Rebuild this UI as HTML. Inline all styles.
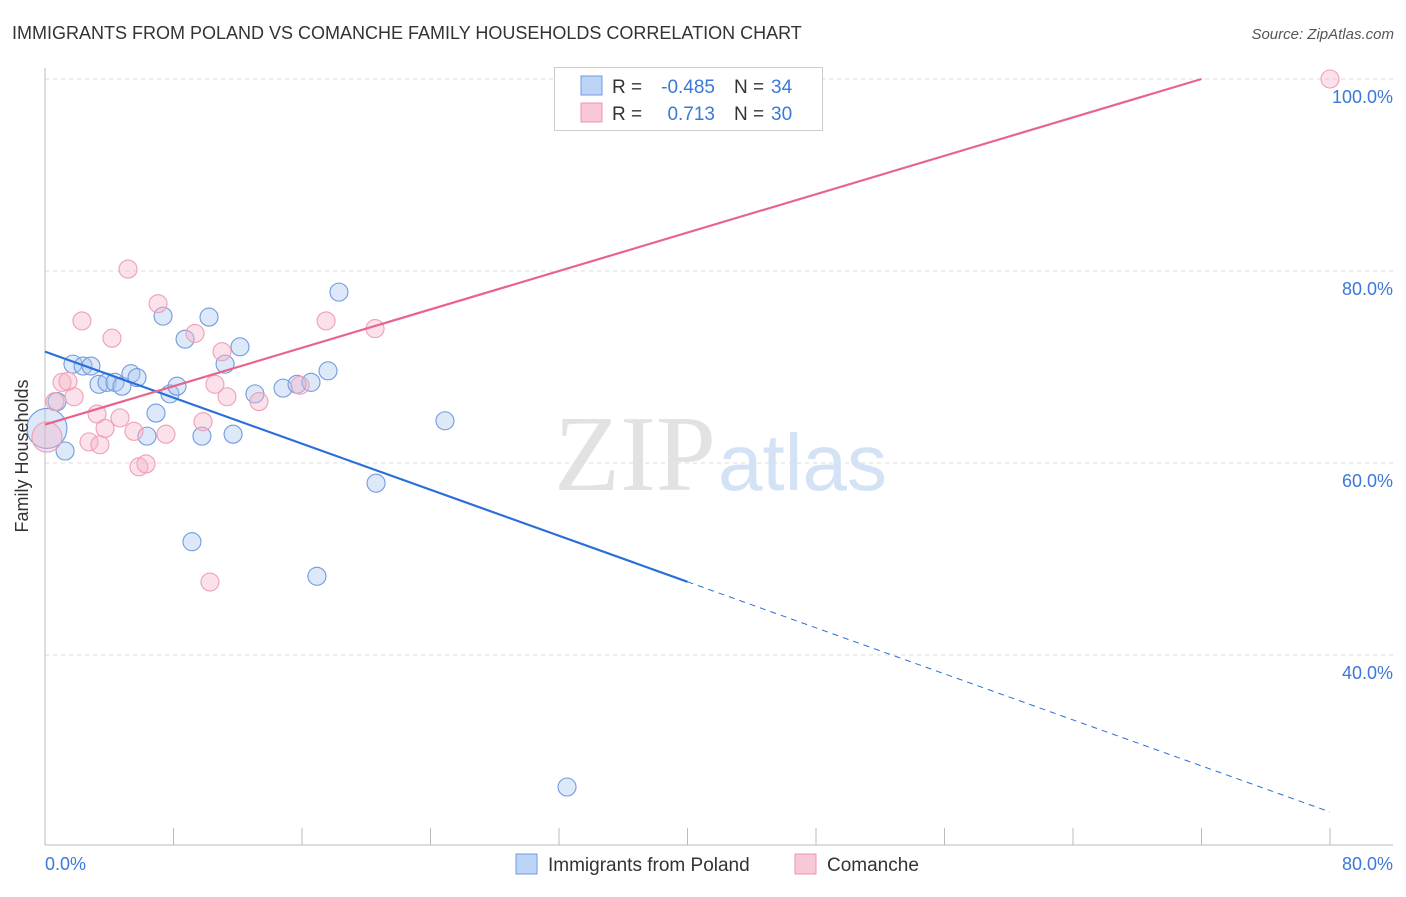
<!DOCTYPE html>
<html><head><meta charset="utf-8"><style>
body{margin:0;background:#fff;font-family:"Liberation Sans",sans-serif}
</style></head><body>
<svg width="1406" height="892" xmlns="http://www.w3.org/2000/svg">
<text x="12" y="39" font-size="18" fill="#333">IMMIGRANTS FROM POLAND VS COMANCHE FAMILY HOUSEHOLDS CORRELATION CHART</text>
<text x="1394" y="39" font-size="15" fill="#555" text-anchor="end" font-style="italic">Source: ZipAtlas.com</text>
<g id="grid"></g>
<text x="716" y="490" font-size="108" fill="#e2e2e2" text-anchor="end" font-family="Liberation Serif,serif">ZIP</text>
<text x="718" y="490" font-size="80" fill="#d3e2f5">atlas</text>
<line x1="45" y1="68" x2="45" y2="845" stroke="#bbb"/>
<line x1="45" y1="845" x2="1393" y2="845" stroke="#bbb"/>
<g id="marks"></g>
<text x="28" y="456" font-size="18" fill="#333" text-anchor="middle" transform="rotate(-90 28 456)">Family Households</text>
<text x="45" y="870" font-size="18" fill="#3b78d8">0.0%</text>
<text x="1393" y="870" font-size="18" fill="#3b78d8" text-anchor="end">80.0%</text>
<g>
<rect x="554.5" y="67.5" width="268" height="63" fill="#fff" stroke="#ccc"/>
<rect x="581" y="76" width="21" height="19" fill="#bcd4f5" stroke="#6f9be0"/>
<rect x="581" y="103" width="21" height="19" fill="#f9c8d6" stroke="#ec94ad"/>
<text x="612" y="93" font-size="19" fill="#333">R =</text>
<text x="715" y="93" font-size="19" fill="#3b78d8" text-anchor="end">-0.485</text>
<text x="734" y="93" font-size="19" fill="#333">N =</text>
<text x="771" y="93" font-size="19" fill="#3b78d8">34</text>
<text x="612" y="120" font-size="19" fill="#333">R =</text>
<text x="715" y="120" font-size="19" fill="#3b78d8" text-anchor="end">0.713</text>
<text x="734" y="120" font-size="19" fill="#333">N =</text>
<text x="771" y="120" font-size="19" fill="#3b78d8">30</text>
</g>
<g>
<rect x="516" y="854" width="21" height="20" fill="#bcd4f5" stroke="#6f9be0"/>
<text x="548" y="871" font-size="19" fill="#333">Immigrants from Poland</text>
<rect x="795" y="854" width="21" height="20" fill="#f9c8d6" stroke="#ec94ad"/>
<text x="827" y="871" font-size="19" fill="#333">Comanche</text>
</g>
</svg>
<script>
const yTicks=[100,80,60,40];
const xTicks=[0,8,16,24,32,40,48,56,64,72,80];
const blueX=[0.75,1.25,1.74,2.37,2.86,3.36,3.86,4.36,4.79,5.35,5.73,6.35,6.91,7.35,7.78,8.22,8.72,9.15,9.77,10.21,11.21,11.71,12.14,13.07,14.82,15.69,16.56,16.93,17.62,18.3,20.61,24.9,32.5,0.12];
const blueY=[66.4,61.25,70.3,70.1,70.1,68.2,68.4,68.4,68.0,69.3,68.9,62.8,65.2,75.3,67.2,68.0,72.9,51.8,62.8,75.2,70.3,63.0,72.1,67.2,67.8,68.2,68.4,48.2,69.6,77.8,57.9,64.4,26.25,63.6];
const pinkX=[0.12,0.62,1.06,1.43,1.81,2.30,2.74,3.24,3.42,3.74,4.17,4.67,5.17,5.54,5.85,6.29,7.04,7.53,9.34,9.84,10.27,10.58,11.02,11.33,13.32,15.88,17.5,20.55,33.1,80];
const pinkY=[62.7,66.4,68.4,68.5,66.9,74.8,62.2,65.1,61.9,63.6,73.0,64.7,80.2,63.3,59.6,59.9,76.6,63.0,73.5,64.3,47.6,68.2,71.6,66.9,66.4,68.1,74.8,74.0,100,100];
const blueLine=[71.6,23.65]; // y at x=0 and x=80
const pinkLine=[64.0,0.5];   // intercept, slope
const sx=v=>45+v*1285/80;
const sy=v=>79+(100-v)*9.6;
const NS="http://www.w3.org/2000/svg";
function mk(t,a,p){const e=document.createElementNS(NS,t);for(const k in a)e.setAttribute(k,a[k]);p.appendChild(e);return e;}
const grid=document.getElementById('grid');
yTicks.forEach(t=>{
  const l=mk('line',{x1:45,x2:1393,y1:sy(t),y2:sy(t),stroke:'#ddd','stroke-dasharray':'4,4'},grid);
  
  
  const tx=mk('text',{x:1393,y:sy(t)+24,'font-size':18,fill:'#3b78d8','text-anchor':'end'},grid);
  tx.textContent=t.toFixed(1)+'%';
  
  
});
xTicks.forEach(t=>{
  const l=mk('line',{x1:sx(t),x2:sx(t),y1:828,y2:845,stroke:'#bbb'},grid);
  
  
});
const m=document.getElementById('marks');
blueX.forEach((x,i)=>{
  const c=mk('circle',{cx:sx(x),cy:sy(blueY[i]),r:i==33?20:9,fill:'#a9c6f0','fill-opacity':0.4,stroke:'#6f9be0','stroke-width':1.1},m);
  
  
});
pinkX.forEach((x,i)=>{
  const c=mk('circle',{cx:sx(x),cy:sy(pinkY[i]),r:i==0?15:9,fill:'#f6b4c8','fill-opacity':0.4,stroke:'#ef9fb6','stroke-width':1.1},m);
  
  
});
const bAt=x=>blueLine[0]+(blueLine[1]-blueLine[0])*x/80;
const bl=mk('line',{x1:sx(0),y1:sy(bAt(0)),x2:sx(40),y2:sy(bAt(40)),stroke:'#2a6fd8','stroke-width':2.2},m);


const bd=mk('line',{x1:sx(40),y1:sy(bAt(40)),x2:sx(80),y2:sy(bAt(80)),stroke:'#2a6fd8','stroke-width':1,'stroke-dasharray':'6,5'},m);


const xEnd=(100-pinkLine[0])/pinkLine[1];
const pl=mk('line',{x1:sx(0),y1:sy(pinkLine[0]),x2:sx(xEnd),y2:sy(100),stroke:'#e8648c','stroke-width':2.2},m);


</script>
</body></html>
